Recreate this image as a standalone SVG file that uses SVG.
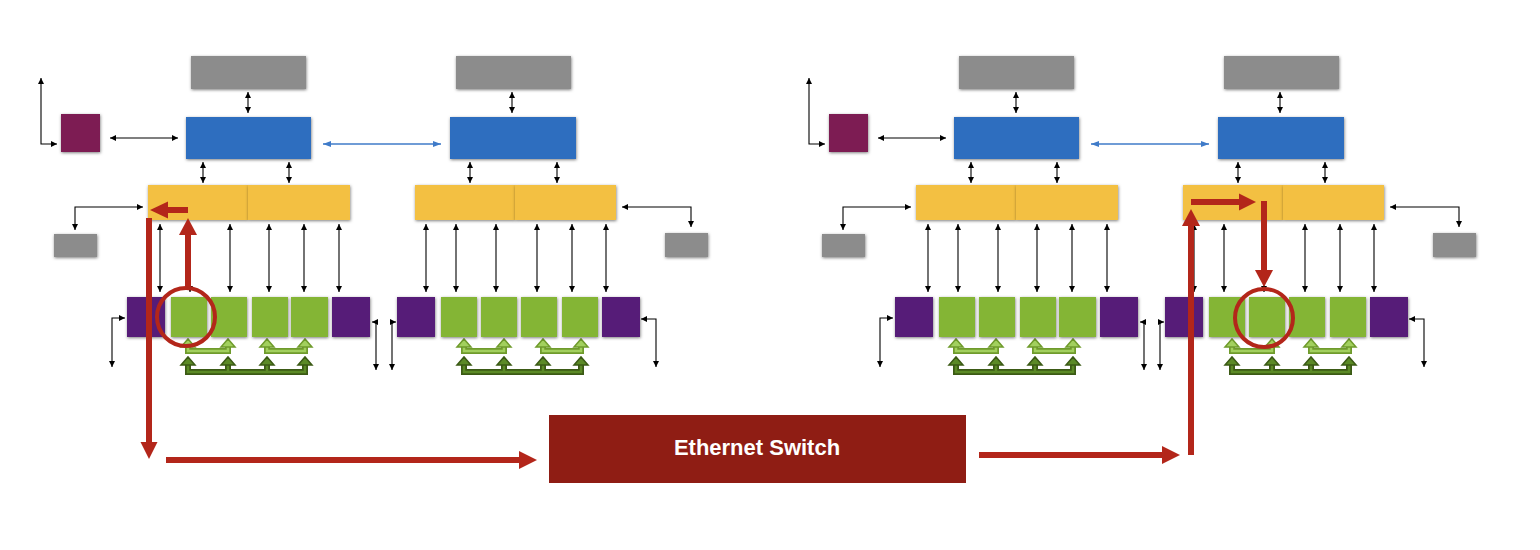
<svg xmlns="http://www.w3.org/2000/svg" width="1540" height="550" viewBox="0 0 1540 550">
<style>
.gray{fill:#8c8c8c}
.blue{fill:#2f6ebf}
.maroon{fill:#7d1b52}
.yellow{fill:#f3c042}
.purple{fill:#561c78}
.green{fill:#84b536}
.box{filter:url(#sh)}
.con{fill:none;stroke:#000;stroke-width:1.1;marker-start:url(#ah);marker-end:url(#ah)}
.bcon{fill:none;stroke:#3f7bc9;stroke-width:1.5;marker-start:url(#bh);marker-end:url(#bh)}
.lgo{fill:none;stroke:#6f9b2c;stroke-width:6}
.lgi{fill:none;stroke:#a2d05e;stroke-width:2.5}
.lgh{fill:#a2d05e;stroke:#6f9b2c;stroke-width:1.5}
.dgo{fill:none;stroke:#3b5a15;stroke-width:6}
.dgi{fill:none;stroke:#5b8a26;stroke-width:2.5}
.dgh{fill:#5b8a26;stroke:#3b5a15;stroke-width:1.5}
.red{fill:none;stroke:#b3261a;stroke-width:6}
.redh{fill:#b3261a}
.ring{fill:none;stroke:#b3261a;stroke-width:4}
.lbl{font-family:"Liberation Sans",Arial,sans-serif;font-weight:bold;font-size:22px;fill:#fff}
</style>
<defs>
<filter id="sh" x="-20%" y="-20%" width="140%" height="140%">
<feDropShadow dx="0.5" dy="1" stdDeviation="1.5" flood-color="#000" flood-opacity="0.5"/>
</filter>
<marker id="ah" viewBox="0 0 6 6" refX="6" refY="3" markerWidth="6" markerHeight="6" markerUnits="userSpaceOnUse" orient="auto-start-reverse">
<path d="M0,0 L6,3 L0,6 z" fill="#000"/>
</marker>
<marker id="bh" viewBox="0 0 8 6" refX="8" refY="3" markerWidth="8" markerHeight="6" markerUnits="userSpaceOnUse" orient="auto-start-reverse">
<path d="M0,0 L8,3 L0,6 z" fill="#3f7bc9"/>
</marker>
<g id="glinks">
<path class="lgo" d="M188,346 V351 H228 V346 M267,346 V351 H305 V346"/>
<path class="lgi" d="M188,346 V351 H228 V346 M267,346 V351 H305 V346"/>
<path class="lgh" d="M181,347 L195,347 L188,339 z M221,347 L235,347 L228,339 z M260,347 L274,347 L267,339 z M298,347 L312,347 L305,339 z"/>
<path class="dgo" d="M188,364 V372 H305 V364 M228,364 V372 M267,364 V372"/>
<path class="dgi" d="M188,364 V372 H305 V364 M228,364 V372 M267,364 V372"/>
<path class="dgh" d="M181,365 L195,365 L188,357 z M221,365 L235,365 L228,357 z M260,365 L274,365 L267,357 z M298,365 L312,365 L305,357 z"/>
</g>
<g id="pairlinks">
<path class="con" d="M41,78 V144 H57"/>
<path class="con" d="M110,138 H178"/>
<path class="con" d="M248,92 V113"/>
<path class="con" d="M203,162 V183"/>
<path class="con" d="M289,162 V183"/>
<path class="con" d="M75,230 V207 H143"/>
<path class="con" d="M160,224 V292"/>
<path class="con" d="M190,224 V292"/>
<path class="con" d="M230,224 V292"/>
<path class="con" d="M269,224 V292"/>
<path class="con" d="M304,224 V292"/>
<path class="con" d="M339,224 V292"/>
<path class="con" d="M112,367 V318 H125"/>
<path class="con" d="M372,322 H376 V370"/>
<path class="con" d="M392,370 V322 H396"/>
<path class="con" d="M512,92 V113"/>
<path class="con" d="M470,162 V183"/>
<path class="con" d="M557,162 V183"/>
<path class="con" d="M691,227 V207 H622"/>
<path class="con" d="M426,224 V292"/>
<path class="con" d="M456,224 V292"/>
<path class="con" d="M496,224 V292"/>
<path class="con" d="M537,224 V292"/>
<path class="con" d="M572,224 V292"/>
<path class="con" d="M606,224 V292"/>
<path class="con" d="M641,319 H656 V367"/>
<path class="bcon" d="M323,144 H441"/>
</g>
</defs>

<!-- connectors -->
<g id="connectors">
<use id="connectors-left" href="#pairlinks"/>
<use id="connectors-right" href="#pairlinks" transform="translate(768,0)"/>
<g id="nvlinks">
<use href="#glinks"/>
<use href="#glinks" transform="translate(276,0)"/>
<use href="#glinks" transform="translate(768,0)"/>
<use href="#glinks" transform="translate(1044,0)"/>
</g>
</g>

<!-- left pair nodes -->
<g id="nic-1"><rect class="maroon box" x="61" y="114" width="39" height="38"/></g>
<g id="storage-1"><rect class="gray box" x="191" y="56" width="115" height="33"/></g>
<g id="cpu-1"><rect class="blue box" x="186" y="117" width="125" height="42"/></g>
<g id="pcie-1a"><rect class="yellow box" x="148" y="185" width="100" height="35"/></g>
<g id="pcie-1b"><rect class="yellow box" x="248" y="185" width="102" height="35"/></g>
<g id="ssd-1"><rect class="gray box" x="54" y="234" width="43" height="23"/></g>
<g id="nic-1-0"><rect class="purple box" x="127" y="297" width="38" height="40"/></g>
<g id="gpu-1-0"><rect class="green box" x="171" y="297" width="36" height="40"/></g>
<g id="gpu-1-1"><rect class="green box" x="211" y="297" width="36" height="40"/></g>
<g id="gpu-1-2"><rect class="green box" x="252" y="297" width="36" height="40"/></g>
<g id="gpu-1-3"><rect class="green box" x="291" y="297" width="37" height="40"/></g>
<g id="nic-1-1"><rect class="purple box" x="332" y="297" width="38" height="40"/></g>

<g id="storage-2"><rect class="gray box" x="456" y="56" width="115" height="33"/></g>
<g id="cpu-2"><rect class="blue box" x="450" y="117" width="126" height="42"/></g>
<g id="pcie-2a"><rect class="yellow box" x="415" y="185" width="100" height="35"/></g>
<g id="pcie-2b"><rect class="yellow box" x="515" y="185" width="101" height="35"/></g>
<g id="ssd-2"><rect class="gray box" x="665" y="233" width="43" height="24"/></g>
<g id="nic-2-0"><rect class="purple box" x="397" y="297" width="38" height="40"/></g>
<g id="gpu-2-0"><rect class="green box" x="441" y="297" width="36" height="40"/></g>
<g id="gpu-2-1"><rect class="green box" x="481" y="297" width="36" height="40"/></g>
<g id="gpu-2-2"><rect class="green box" x="521" y="297" width="36" height="40"/></g>
<g id="gpu-2-3"><rect class="green box" x="562" y="297" width="36" height="40"/></g>
<g id="nic-2-1"><rect class="purple box" x="602" y="297" width="38" height="40"/></g>

<!-- right pair nodes -->
<g transform="translate(768,0)">
<g id="nic-3"><rect class="maroon box" x="61" y="114" width="39" height="38"/></g>
<g id="storage-3"><rect class="gray box" x="191" y="56" width="115" height="33"/></g>
<g id="cpu-3"><rect class="blue box" x="186" y="117" width="125" height="42"/></g>
<g id="pcie-3a"><rect class="yellow box" x="148" y="185" width="100" height="35"/></g>
<g id="pcie-3b"><rect class="yellow box" x="248" y="185" width="102" height="35"/></g>
<g id="ssd-3"><rect class="gray box" x="54" y="234" width="43" height="23"/></g>
<g id="nic-3-0"><rect class="purple box" x="127" y="297" width="38" height="40"/></g>
<g id="gpu-3-0"><rect class="green box" x="171" y="297" width="36" height="40"/></g>
<g id="gpu-3-1"><rect class="green box" x="211" y="297" width="36" height="40"/></g>
<g id="gpu-3-2"><rect class="green box" x="252" y="297" width="36" height="40"/></g>
<g id="gpu-3-3"><rect class="green box" x="291" y="297" width="37" height="40"/></g>
<g id="nic-3-1"><rect class="purple box" x="332" y="297" width="38" height="40"/></g>

<g id="storage-4"><rect class="gray box" x="456" y="56" width="115" height="33"/></g>
<g id="cpu-4"><rect class="blue box" x="450" y="117" width="126" height="42"/></g>
<g id="pcie-4a"><rect class="yellow box" x="415" y="185" width="100" height="35"/></g>
<g id="pcie-4b"><rect class="yellow box" x="515" y="185" width="101" height="35"/></g>
<g id="ssd-4"><rect class="gray box" x="665" y="233" width="43" height="24"/></g>
<g id="nic-4-0"><rect class="purple box" x="397" y="297" width="38" height="40"/></g>
<g id="gpu-4-0"><rect class="green box" x="441" y="297" width="36" height="40"/></g>
<g id="gpu-4-1"><rect class="green box" x="481" y="297" width="36" height="40"/></g>
<g id="gpu-4-2"><rect class="green box" x="521" y="297" width="36" height="40"/></g>
<g id="gpu-4-3"><rect class="green box" x="562" y="297" width="36" height="40"/></g>
<g id="nic-4-1"><rect class="purple box" x="602" y="297" width="38" height="40"/></g>
</g>

<!-- Ethernet switch -->
<g id="ethernet-switch">
<rect x="549" y="415" width="417" height="68" fill="#8f1d14"/>
<text class="lbl" x="757" y="455" text-anchor="middle">Ethernet Switch</text>
</g>

<!-- red data path -->
<g id="data-path">
<circle class="ring" cx="186" cy="317" r="29"/>
<path class="red" d="M188,288 V234"/>
<path class="redh" d="M179,235 L197,235 L188,218 z"/>
<path class="red" d="M188,210 H166"/>
<path class="redh" d="M168,201.5 L168,218.5 L150,210 z"/>
<path class="red" d="M149,218 V443"/>
<path class="redh" d="M140.5,442 L157.5,442 L149,459 z"/>
<path class="red" d="M166,460 H520"/>
<path class="redh" d="M519,451 L519,469 L537,460 z"/>
<path class="red" d="M979,455 H1163"/>
<path class="redh" d="M1162,446 L1162,464 L1180,455 z"/>
<path class="red" d="M1191,455 V225"/>
<path class="redh" d="M1182,226 L1200,226 L1191,209 z"/>
<path class="red" d="M1191,202 H1240"/>
<path class="redh" d="M1239,193.5 L1239,210.5 L1256,202 z"/>
<path class="red" d="M1264,201 V271"/>
<path class="redh" d="M1255,270 L1273,270 L1264,287 z"/>
<circle class="ring" cx="1264" cy="318" r="29"/>
</g>
</svg>
